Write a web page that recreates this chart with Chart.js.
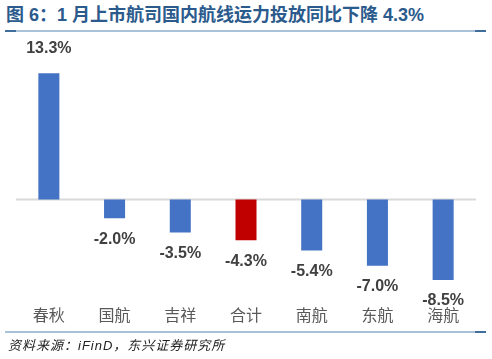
<!DOCTYPE html>
<html>
<head>
<meta charset="utf-8">
<script src="https://cdn.jsdelivr.net/npm/chart.js@4.4.1/dist/chart.umd.min.js"></script>
<style>
  html, body { margin: 0; padding: 0; background: #fff; }
  #wrap { position: relative; width: 492px; height: 359px; overflow: hidden; }
  #title {
    position: absolute; left: 6px; top: 4px; white-space: nowrap;
    font: bold 18px "Liberation Sans", "Noto Sans CJK SC", sans-serif;
    color: #2B5A8C; line-height: 22px;
  }
  .rule { position: absolute; left: 5px; width: 481px; height: 2px; background: #A9C1D9; }
  .rule .l, .rule .r { position: absolute; top: 0; height: 2px; width: 11px; background: #3F6E9C; }
  .rule .l { left: 0; }
  .rule .r { right: 0; }
  #source {
    position: absolute; left: 8px; top: 338px; white-space: nowrap;
    font: italic 13px "Liberation Sans", "Noto Sans CJK SC", sans-serif;
    letter-spacing: 1px;
    color: #222; line-height: 16px;
  }
  #chart { position: absolute; left: 0; top: 0; }
</style>
</head>
<body>
<div id="wrap">
  <div id="title">图 6：1 月上市航司国内航线运力投放同比下降 4.3%</div>
  <div class="rule" style="top:30px"><div class="l"></div><div class="r"></div></div>
  <canvas id="chart" width="492" height="359"></canvas>
  <div class="rule" style="top:331px"><div class="r"></div></div>
  <div id="source">资料来源：iFinD，东兴证券研究所</div>
</div>
<script>
// data
const airlines = ["春秋", "国航", "吉祥", "合计", "南航", "东航", "海航"];
const capacityYoY = [13.3, -2.0, -3.5, -4.3, -5.4, -7.0, -8.5];
const barColors = ["#4472C4", "#4472C4", "#4472C4", "#C00000", "#4472C4", "#4472C4", "#4472C4"];

// zero line + value labels at bar ends
const barDecor = {
    id: 'barDecor',
    beforeDatasetsDraw(chart) {
        const { ctx, chartArea, scales } = chart;
        const y0 = scales.y.getPixelForValue(0);
        ctx.save();
        ctx.strokeStyle = '#D9D9D9';
        ctx.lineWidth = 2;
        ctx.beginPath();
        ctx.moveTo(chartArea.left, y0);
        ctx.lineTo(chartArea.right, y0);
        ctx.stroke();
        ctx.restore();
    },
    afterDatasetsDraw(chart) {
        const { ctx } = chart;
        const meta = chart.getDatasetMeta(0);
        ctx.save();
        ctx.font = 'bold 16px "Liberation Sans", sans-serif';
        ctx.fillStyle = '#404040';
        ctx.textAlign = 'center';
        ctx.textBaseline = 'middle';
        meta.data.forEach((bar, i) => {
            const v = capacityYoY[i];
            const y = v >= 0 ? bar.y - 25 : bar.y + 21;
            ctx.fillText(v.toFixed(1) + '%', bar.x, y);
        });
        ctx.restore();
    }
};

new Chart(document.getElementById('chart').getContext('2d'), {
    type: 'bar',
    data: {
        labels: airlines,
        datasets: [{
            data: capacityYoY,
            backgroundColor: barColors,
            borderWidth: 0,
            barPercentage: 0.32,
            categoryPercentage: 1.0
        }]
    },
    options: {
        responsive: false,
        animation: false,
        layout: { padding: { left: 16, right: 16, top: 47.6, bottom: 30.6 } },
        plugins: {
            legend: { display: false },
            tooltip: { enabled: false }
        },
        scales: {
            x: {
                grid: { display: false },
                border: { display: false },
                ticks: {
                    color: '#595959',
                    font: { family: '"Noto Sans CJK SC", sans-serif', size: 16 },
                    padding: 4,
                    maxRotation: 0
                }
            },
            y: {
                display: false,
                min: -9.89,
                max: 16
            }
        }
    },
    plugins: [barDecor]
});
</script>
</body>
</html>
